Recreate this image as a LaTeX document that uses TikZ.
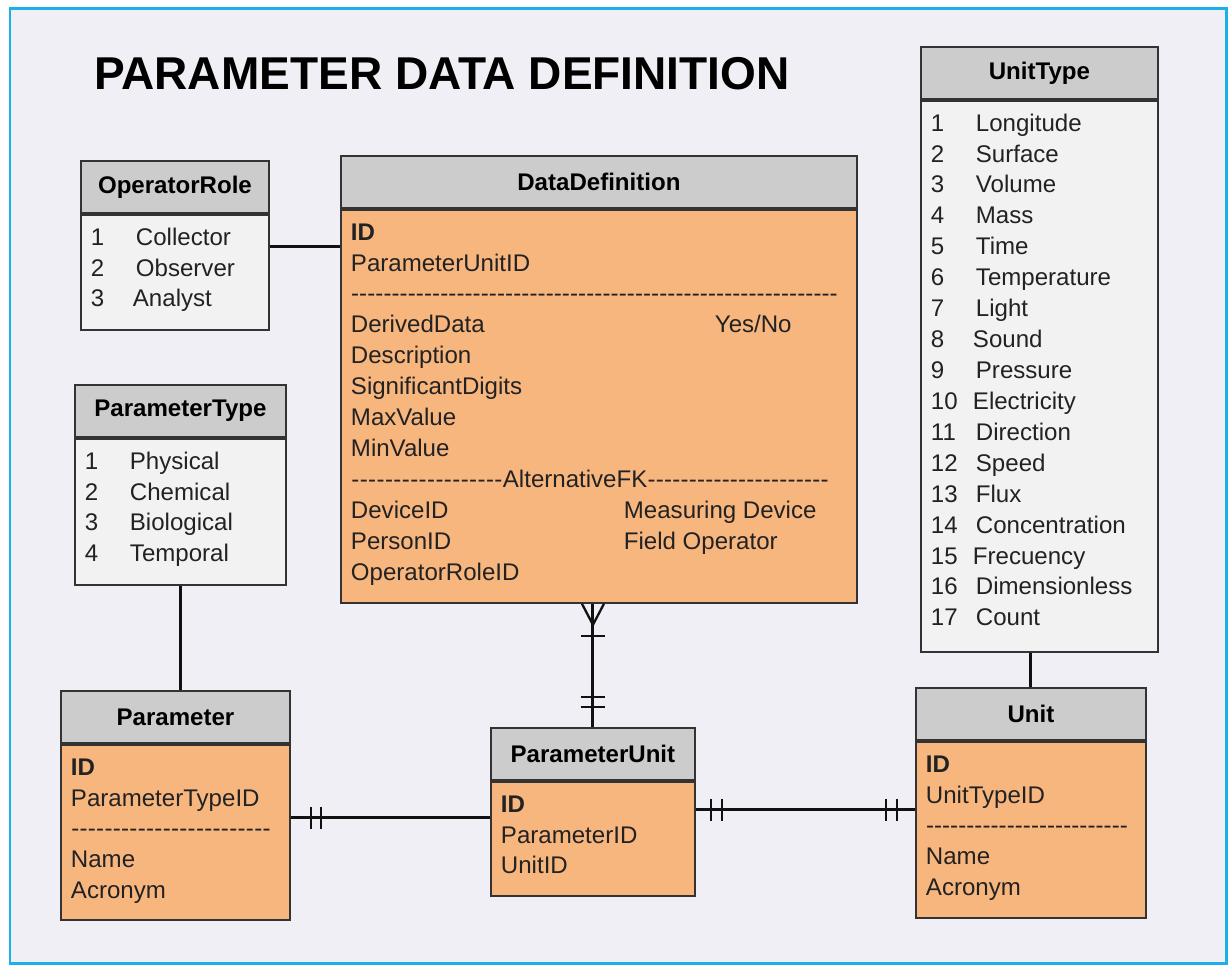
\documentclass[tikz,border=0pt]{standalone}
\usepackage{fontspec}
\setmainfont{Liberation Sans}
\usetikzlibrary{calc}

\definecolor{canvas}{HTML}{F0EFF5}
\definecolor{frame}{HTML}{1DB0E8}
\definecolor{headgray}{HTML}{CCCCCC}
\definecolor{listgray}{HTML}{F2F2F2}
\definecolor{keyorange}{HTML}{F8B67F}
\definecolor{boxline}{HTML}{333333}
\definecolor{bodytext}{HTML}{222222}
\definecolor{linkcol}{HTML}{111111}

\newcommand{\dashfill}{\xleaders\hbox{-}\hfill}
\newcommand{\tabbody}[3]{\parbox[t][#1][t]{#2}{\rule{0pt}{0.355cm}#3}}
\newcommand{\rowno}[2][0.9cm]{\makebox[#1][l]{#2}}

\begin{document}
\begin{tikzpicture}[
 x=0.02cm, y=-0.02cm,
 font=\fontsize{13.7}{17.6}\selectfont,
 head/.style={draw=boxline,fill=headgray,line width=1.1pt,anchor=north west,inner sep=0pt,minimum height=1.04cm,font=\fontsize{13.7}{17.6}\selectfont\bfseries},
 keybody/.style={draw=boxline,fill=keyorange,line width=1.1pt,anchor=north west,inner xsep=0.2cm,inner ysep=0.25cm,text=bodytext},
 listbody/.style={keybody,fill=listgray},
 link/.style={draw=linkcol,line width=1.7pt},
 bar/.style={draw=linkcol,line width=1.3pt}
]
\useasboundingbox (0,0) rectangle (1228,965);
\fill[white] (0,0) rectangle (1228,965);
\draw[frame,line width=1.7pt,fill=canvas] (10,8) rectangle (1226,963);

\node (title) [anchor=base,font=\fontsize{26.2}{30}\selectfont\bfseries] at (442,89) {PARAMETER DATA DEFINITION};

% lookup tables
\node (or-head) [head,minimum width=3.76cm] at (80,160) {OperatorRole};
\node (or-body) [listbody,minimum width=3.76cm] at (or-head.south west)
 {\tabbody{1.8cm}{3.36cm}{\rowno{1}Collector\\ \rowno{2}Observer\\ \rowno[0.84cm]{3}Analyst}};

\node (pt-head) [head,minimum width=4.22cm] at (74,384) {ParameterType};
\node (pt-body) [listbody,minimum width=4.22cm] at (pt-head.south west)
 {\tabbody{2.42cm}{3.82cm}{\rowno{1}Physical\\ \rowno{2}Chemical\\ \rowno{3}Biological\\ \rowno{4}Temporal}};

\node (ut-head) [head,minimum width=4.74cm] at (920,46) {UnitType};
\node (ut-body) [listbody,minimum width=4.74cm] at (ut-head.south west)
 {\tabbody{10.52cm}{4.34cm}{\rowno{1}Longitude\\ \rowno{2}Surface\\ \rowno{3}Volume\\ \rowno{4}Mass\\
  \rowno{5}Time\\ \rowno{6}Temperature\\ \rowno{7}Light\\ \rowno[0.84cm]{8}Sound\\ \rowno{9}Pressure\\
  \rowno[0.84cm]{10}Electricity\\ \rowno{11}Direction\\ \rowno{12}Speed\\ \rowno{13}Flux\\
  \rowno{14}Concentration\\ \rowno[0.84cm]{15}Frecuency\\ \rowno{16}Dimensionless\\ \rowno{17}Count}};

% key tables
\node (dd-head) [head,minimum width=10.32cm] at (340,155) {DataDefinition};
\node (dd-body) [keybody,minimum width=10.32cm] at (dd-head.south west)
 {\tabbody{7.36cm}{9.92cm}{\textbf{ID}\\ ParameterUnitID\\ \hbox to 9.74cm{\dashfill}\\
  \makebox[7.28cm][l]{DerivedData}Yes/No\\ Description\\ SignificantDigits\\ MaxValue\\ MinValue\\
  \hbox to 9.56cm{\hbox to 3.04cm{\dashfill}AlternativeFK\dashfill}\\
  \makebox[5.46cm][l]{DeviceID}Measuring Device\\ \makebox[5.46cm][l]{PersonID}Field Operator\\ OperatorRoleID}};

\node (par-head) [head,minimum width=4.58cm] at (60,690) {Parameter};
\node (par-body) [keybody,minimum width=4.58cm] at (par-head.south west)
 {\tabbody{3.0cm}{4.18cm}{\textbf{ID}\\ ParameterTypeID\\ \hbox to 4.0cm{\dashfill}\\ Name\\ Acronym}};

\node (pu-head) [head,minimum width=4.08cm] at (490,727) {ParameterUnit};
\node (pu-body) [keybody,minimum width=4.08cm] at (pu-head.south west)
 {\tabbody{1.78cm}{3.68cm}{\textbf{ID}\\ ParameterID\\ UnitID}};

\node (unit-head) [head,minimum width=4.6cm] at (915,687) {Unit};
\node (unit-body) [keybody,minimum width=4.6cm] at (unit-head.south west)
 {\tabbody{3.02cm}{4.2cm}{\textbf{ID}\\ UnitTypeID\\ \hbox to 4.04cm{\dashfill}\\ Name\\ Acronym}};

% relations
\coordinate (or-link) at ($(or-body.north east)+(0,33)$);
\draw[link] (or-link) -- (or-link -| dd-body.west);
\draw[link] (pt-body.south) -- (pt-body.south |- par-head.north);
\draw[link] (unit-head.north) -- (unit-head.north |- ut-body.south);

\coordinate (par-link) at ($(par-body.north east)+(0,74)$);
\draw[link] (par-link) -- (par-link -| pu-body.west);
\draw[bar] ($(par-link)+(20,-11)$) -- +(0,22);
\draw[bar] ($(par-link)+(30,-11)$) -- +(0,22);

\coordinate (pu-link) at ($(pu-body.north east)+(0,29)$);
\coordinate (unit-link) at (pu-link -| unit-body.west);
\draw[link] (pu-link) -- (unit-link);
\draw[bar] ($(pu-link)+(15,-11)$) -- +(0,22);
\draw[bar] ($(pu-link)+(26,-11)$) -- +(0,22);
\draw[bar] ($(unit-link)+(-18,-11)$) -- +(0,22);
\draw[bar] ($(unit-link)+(-29,-11)$) -- +(0,22);

\coordinate (dd-foot) at (pu-head.north |- dd-body.south);
\draw[link] (dd-foot) -- (pu-head.north);
\draw[bar] ($(dd-foot)+(-11,0)$) -- ($(dd-foot)+(0,21)$) -- ($(dd-foot)+(11,0)$);
\draw[bar] ($(dd-foot)+(-12,32)$) -- +(24,0);
\draw[bar] ($(pu-head.north)+(-12,-30)$) -- +(24,0);
\draw[bar] ($(pu-head.north)+(-12,-20)$) -- +(24,0);
\end{tikzpicture}
\end{document}
